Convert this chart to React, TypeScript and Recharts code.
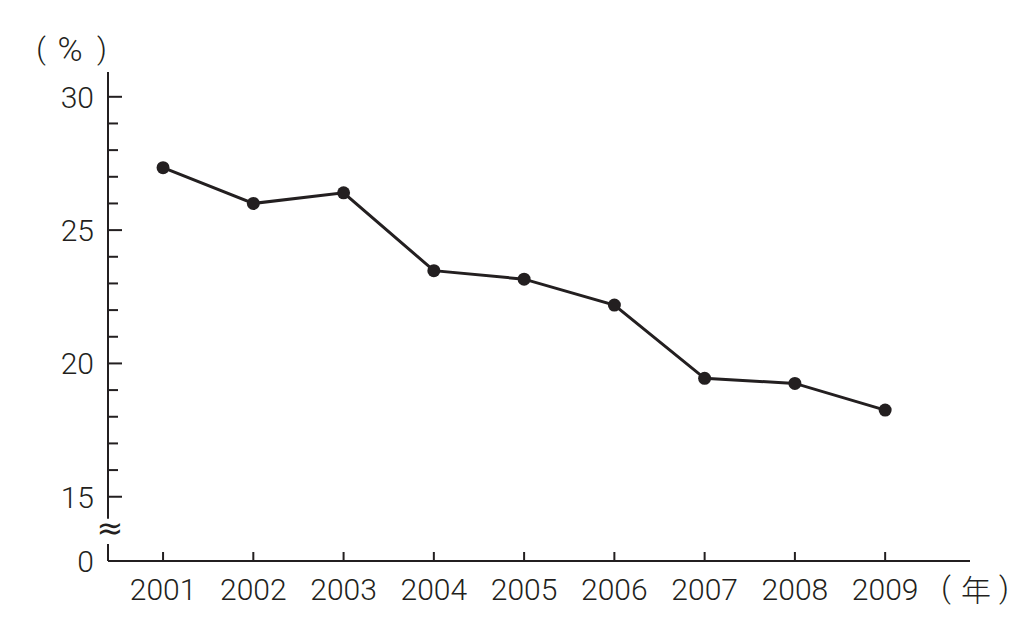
import React from 'react';
import { LineChart, Line, XAxis, YAxis, ReferenceLine, ReferenceDot } from 'recharts';

const years = [2001, 2002, 2003, 2004, 2005, 2006, 2007, 2008, 2009];
const rates = [27.34, 26.0, 26.4, 23.48, 23.16, 22.19, 19.44, 19.25, 18.25];

// y axis is broken: the bottom value stands for 0
const Y_ZERO = 12.59;
const Y_TOP = 30.93;
const Y_BREAK_LOW = 13.23;
const Y_BREAK_HIGH = 14.17;
const Y_BREAK_MARK = 13.83;
const majorTicks = [15, 20, 25, 30];
const minorTicks = [16, 17, 18, 19, 21, 22, 23, 24, 26, 27, 28, 29];
const yTicks = [Y_ZERO, ...majorTicks, ...minorTicks].sort((a, b) => a - b);

const X_MIN = 2000.39;
const X_MAX = 2009.94;

const data = years.map((year, i) => ({ year, rate: rates[i] }));

const INK = '#231f20';
const FONT = 'Roboto, "Liberation Sans", sans-serif';

function YTick(props: any) {
  const { x, y, payload } = props;
  const v = payload.value;
  const isZero = Math.abs(v - Y_ZERO) < 0.001;
  const isMajor = majorTicks.includes(v);
  const len = isMajor ? 14 : 10;
  return (
    <g>
      {!isZero && <line x1={x} y1={y} x2={x + len} y2={y} stroke={INK} strokeWidth={2} />}
      {(isMajor || isZero) && (
        <text x={x - 14} y={y + 11} textAnchor="end" fontSize={30} fontWeight={300} fontFamily={FONT} fill={INK}>
          {isZero ? '0' : v}
        </text>
      )}
    </g>
  );
}

function XTick(props: any) {
  const { x, y, payload } = props;
  return (
    <g>
      <line x1={x} y1={y} x2={x} y2={y - 9} stroke={INK} strokeWidth={2} />
      <text x={x} y={y + 39} textAnchor="middle" fontSize={30} fontWeight={300} fontFamily={FONT} fill={INK}>
        {payload.value}
      </text>
    </g>
  );
}

export default function App() {
  return (
    <div style={{ position: 'absolute', left: 0, top: 0, width: 1033, height: 618, background: '#fff' }}>
      <LineChart width={1033} height={618} data={data} margin={{ top: 72, right: 63, left: 0, bottom: 0 }}>
        <XAxis
          dataKey="year"
          type="number"
          domain={[X_MIN, X_MAX]}
          ticks={years}
          allowDataOverflow
          height={57}
          tickSize={0}
          tickMargin={0}
          tickLine={false}
          axisLine={{ stroke: INK, strokeWidth: 2 }}
          tick={<XTick />}
          interval={0}
        />
        <YAxis
          type="number"
          domain={[Y_ZERO, Y_TOP]}
          ticks={yTicks}
          allowDataOverflow
          width={108}
          tickSize={0}
          tickMargin={0}
          tickLine={false}
          axisLine={false}
          tick={<YTick />}
          interval={0}
        />
        <ReferenceLine
          segment={[{ x: X_MIN, y: Y_TOP }, { x: X_MIN, y: Y_BREAK_HIGH }]}
          stroke={INK}
          strokeWidth={2}
        />
        <ReferenceLine
          segment={[{ x: X_MIN, y: Y_BREAK_LOW }, { x: X_MIN, y: Y_ZERO }]}
          stroke={INK}
          strokeWidth={2}
        />
        <ReferenceDot
          x={X_MIN}
          y={Y_BREAK_MARK}
          r={0}
          shape={(p: any) => (
            <text x={p.cx + 2} y={p.cy + 11} textAnchor="middle" fontSize={32} fontFamily="DejaVu Sans" fill={INK}>
              ≈
            </text>
          )}
        />
        <Line
          type="linear"
          dataKey="rate"
          stroke={INK}
          strokeWidth={3}
          dot={{ r: 6.5, fill: INK, stroke: INK, strokeWidth: 0 }}
          isAnimationActive={false}
        />
      </LineChart>
      <svg width={1033} height={618} style={{ position: 'absolute', left: 0, top: 0, pointerEvents: 'none' }}>
        <g fontFamily={FONT} fontWeight={300} fontSize={30} fill={INK} textAnchor="middle">
          <text x={41} y={59}>(</text>
          <text x={70} y={61} fontSize={34}>%</text>
          <text x={102} y={59}>)</text>
          <text x={946} y={598}>(</text>
          <text x={1004} y={598}>)</text>
        </g>
        <text x={976} y={601} textAnchor="middle" fontSize={30} fontFamily='"Noto Sans CJK SC"' fontWeight={300} fill={INK}>
          年
        </text>
      </svg>
    </div>
  );
}
